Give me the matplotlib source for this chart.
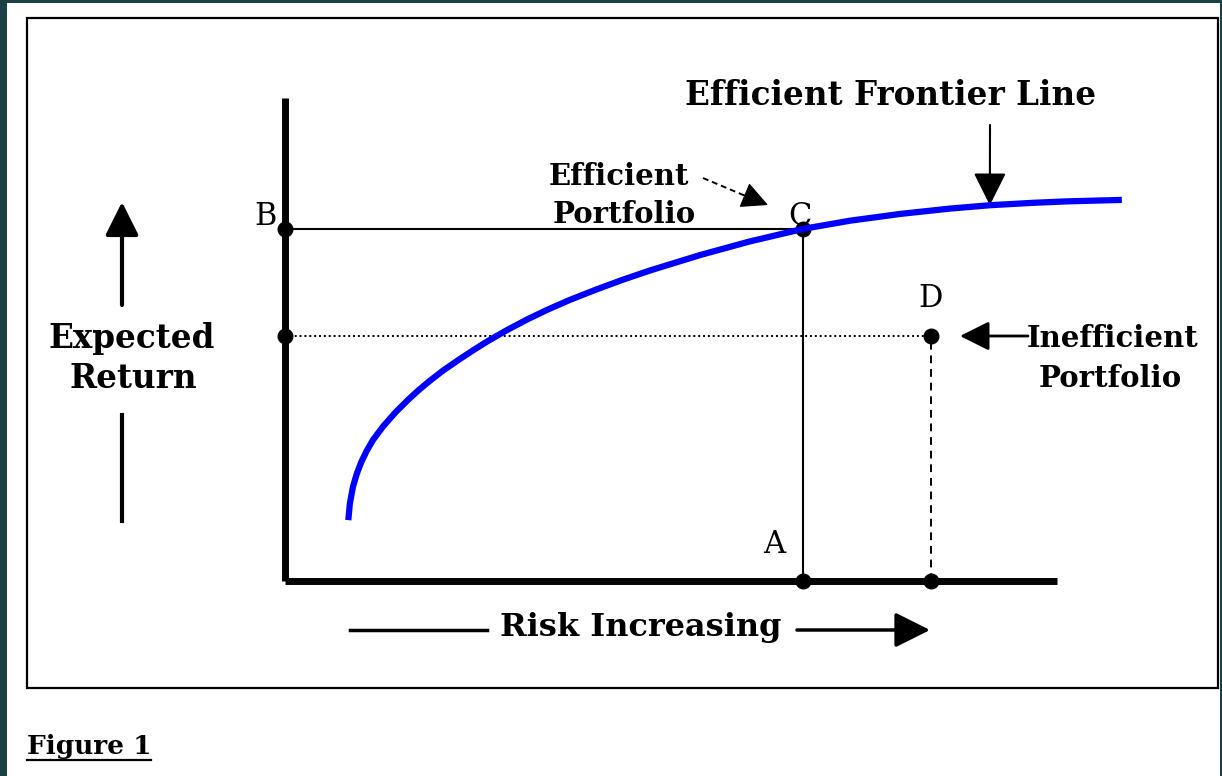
import numpy as np
import matplotlib.pyplot as plt
from matplotlib.patches import Rectangle
from matplotlib.lines import Line2D
from matplotlib.transforms import Affine2D

W, H = 1222, 776

# efficient frontier (risk, expected return), axes run 0..10
frontier_risk = [0.82, 0.84, 0.88, 0.93, 0.99, 1.06, 1.14, 1.27, 1.43, 1.60, 1.73,
                 1.88, 2.05, 2.25, 2.44, 2.63, 2.87, 3.13, 3.39, 3.69, 4.04, 4.38,
                 4.73, 5.38, 6.02, 6.71, 7.32, 7.97, 8.61, 9.13, 9.69, 10.13, 10.84]
frontier_return = [1.26, 1.60, 1.95, 2.22, 2.47, 2.70, 2.92, 3.20, 3.49, 3.76, 3.95,
                   4.15, 4.36, 4.58, 4.78, 4.97, 5.19, 5.41, 5.61, 5.82, 6.04, 6.24,
                   6.43, 6.75, 7.03, 7.29, 7.46, 7.60, 7.71, 7.78, 7.83, 7.86, 7.89]

# labelled portfolios
efficient_risk, efficient_return = 6.71, 7.29      # C
inefficient_risk, inefficient_return = 8.37, 5.07  # D

teal = '#1b4146'
serif = 'DejaVu Serif'

fig = plt.figure(figsize=(W / 100, H / 100), dpi=100)
fig.patch.set_facecolor('white')
# pixel coordinates of the page (origin top-left)
pix = Affine2D().scale(1 / W, -1 / H).translate(0, 1) + fig.transFigure

# dark border of the screenshot
fig.add_artist(Rectangle((0, 0), 7, H, transform=pix, color=teal, lw=0))
fig.add_artist(Rectangle((0, 0), W, 3, transform=pix, color=teal, lw=0))
fig.add_artist(Rectangle((1220, 0), 2, H, transform=pix, color=teal, lw=0))
# frame around the chart
fig.add_artist(Rectangle((27, 18), 1191, 670, transform=pix, fill=False,
                         ec='black', lw=1.6))

ax = fig.add_axes([285 / W, 1 - 581 / H, (1057 - 285) / W, (581 - 98) / H])
ax.set_xlim(0, 10)
ax.set_ylim(0, 10)
ax.patch.set_alpha(0)
for s in ['top', 'right']:
    ax.spines[s].set_visible(False)
for s in ['left', 'bottom']:
    ax.spines[s].set_linewidth(5)
    ax.spines[s].set_capstyle('butt')
ax.set_xticks([])
ax.set_yticks([])

# guide lines
ax.plot([0, efficient_risk], [efficient_return, efficient_return], color='black',
        lw=1.5, clip_on=False)
ax.plot([efficient_risk, efficient_risk], [0, efficient_return], color='black',
        lw=1.5, clip_on=False)
ax.plot([0, inefficient_risk], [inefficient_return, inefficient_return], color='black',
        lw=1.4, ls=(0, (1, 1.5)), clip_on=False)
ax.plot([inefficient_risk, inefficient_risk], [0, inefficient_return], color='black',
        lw=1.4, ls=(0, (4, 3)), clip_on=False)

# dots
dot_x = [0, 0, efficient_risk, efficient_risk, inefficient_risk, inefficient_risk]
dot_y = [efficient_return, inefficient_return, efficient_return, 0, inefficient_return, 0]
ax.plot(dot_x, dot_y, 'o', color='black', ms=10.5, clip_on=False, zorder=4)

# frontier
ax.plot(frontier_risk, frontier_return, color='#0000ff', lw=4.5,
        solid_capstyle='butt', solid_joinstyle='round', clip_on=False, zorder=5)

# letters
letter_kw = dict(fontsize=22, family=serif, ha='center', va='baseline',
                 transform=pix, color='black')
fig.text(266, 225, 'B', **letter_kw)
fig.text(800, 225, 'C', **letter_kw)
fig.text(930, 307, 'D', **letter_kw)
fig.text(774, 553, 'A', **letter_kw)

bold_kw = dict(family=serif, fontweight='bold', ha='center',
               va='baseline', transform=pix, color='black')
fig.text(891, 105, 'Efficient Frontier Line', fontsize=23.5, **bold_kw)
fig.text(619, 185, 'Efficient', fontsize=21, **bold_kw)
fig.text(624, 223, 'Portfolio', fontsize=21, **bold_kw)
fig.text(1112, 347, 'Inefficient', fontsize=21, **bold_kw)
fig.text(1110, 387, 'Portfolio', fontsize=21, **bold_kw)
fig.text(132, 348, 'Expected', fontsize=23.5, **bold_kw)
fig.text(133, 388, 'Return', fontsize=23.5, **bold_kw)
fig.text(641, 636, 'Risk Increasing', fontsize=23, **bold_kw)
fig.text(27, 754, 'Figure 1', fontsize=19, family=serif, fontweight='bold',
         ha='left', va='baseline', transform=pix)
fig.add_artist(Line2D([27, 151], [760, 760], transform=pix, color='black', lw=1.6))

# arrows
head = '-|>,head_length=0.6,head_width=0.3'
ax.annotate('', xy=(frontier_risk[29], frontier_return[29]), xycoords='data',
            xytext=(990, 125), textcoords=pix,
            arrowprops=dict(arrowstyle=head, mutation_scale=34, lw=1.5,
                            color='black', shrinkA=0, shrinkB=0))
# dashed pointer to the efficient portfolio
fig.add_artist(Line2D([703, 748], [178, 197], transform=pix, color='black',
                      lw=1.4, ls=(0, (3, 2))))
ax.annotate('', xy=(768, 205), xycoords=pix, xytext=(744, 195), textcoords=pix,
            arrowprops=dict(arrowstyle=head, mutation_scale=28, lw=1,
                            color='black', shrinkA=0, shrinkB=0))
ax.annotate('', xy=(960, 336), xycoords=pix, xytext=(1028, 336), textcoords=pix,
            arrowprops=dict(arrowstyle=head, mutation_scale=30, lw=2,
                            color='black', shrinkA=0, shrinkB=0))
ax.annotate('', xy=(122, 202), xycoords=pix, xytext=(122, 305), textcoords=pix,
            arrowprops=dict(arrowstyle=head, mutation_scale=34, lw=3,
                            color='black', shrinkA=0, shrinkB=0))
fig.add_artist(Line2D([122, 122], [415, 521], transform=pix, color='black', lw=3))
fig.add_artist(Line2D([350, 487], [630, 630], transform=pix, color='black', lw=2.5))
ax.annotate('', xy=(930, 630), xycoords=pix, xytext=(797, 630), textcoords=pix,
            arrowprops=dict(arrowstyle=head, mutation_scale=36, lw=2.5,
                            color='black', shrinkA=0, shrinkB=0))

fig.savefig('out.png', dpi=100, facecolor=fig.get_facecolor())
